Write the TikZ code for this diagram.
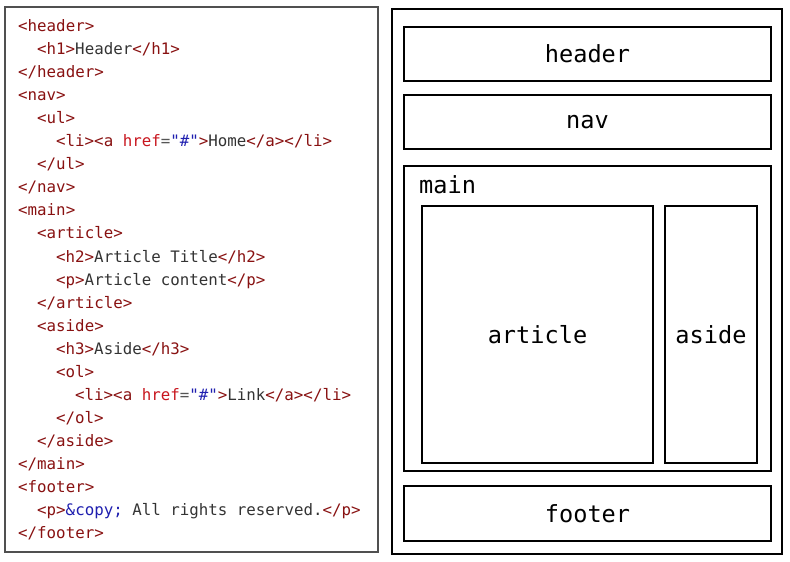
\documentclass[tikz,border=0pt]{standalone}
\usepackage{fontspec}
\setmonofont{DejaVu Sans Mono}
\definecolor{tagc}{RGB}{136,17,17}
\definecolor{attrc}{RGB}{200,22,30}
\definecolor{valc}{RGB}{30,30,175}
\definecolor{txtc}{RGB}{51,51,51}
\definecolor{eqc}{RGB}{85,85,85}
\definecolor{panelc}{RGB}{80,80,80}
\newcommand\tg[1]{\textcolor{tagc}{#1}}
\newcommand\at[1]{\textcolor{attrc}{#1}}
\newcommand\vl[1]{\textcolor{valc}{#1}}
\newcommand\tx[1]{\textcolor{txtc}{#1}}
\newcommand\hrefsnip{\tg{<a} \at{href}\textcolor{eqc}{=}\vl{"\#"}\tg{>}}
\begin{document}
\begin{tikzpicture}[x=1pt,y=-1pt,
  code/.style={anchor=base west, inner sep=0pt, font=\fontsize{15.8}{18}\selectfont\ttfamily, text=txtc},
  box/.style={draw=black, line width=2.2pt, rectangle, inner sep=0pt, font=\fontsize{23.6}{28}\selectfont\ttfamily},
  lbl/.style={inner sep=0pt, font=\fontsize{23.6}{28}\selectfont\ttfamily}]
\useasboundingbox (0,0) rectangle (790,562);
% left panel
\draw[draw=panelc, line width=1.4pt] (5,7) rectangle (378,552);
\node[code] (c0)  at (18,31.5)   {\tg{<header>}};
\node[code] (c1)  at (37,54.55)  {\tg{<h1>}Header\tg{</h1>}};
\node[code] (c2)  at (18,77.6)   {\tg{</header>}};
\node[code] (c3)  at (18,100.65) {\tg{<nav>}};
\node[code] (c4)  at (37,123.7)  {\tg{<ul>}};
\node[code] (c5)  at (56,146.75) {\tg{<li>}\hrefsnip Home\tg{</a></li>}};
\node[code] (c6)  at (37,169.8)  {\tg{</ul>}};
\node[code] (c7)  at (18,192.85) {\tg{</nav>}};
\node[code] (c8)  at (18,215.9)  {\tg{<main>}};
\node[code] (c9)  at (37,238.95) {\tg{<article>}};
\node[code] (c10) at (56,262)    {\tg{<h2>}Article Title\tg{</h2>}};
\node[code] (c11) at (56,285.05) {\tg{<p>}Article content\tg{</p>}};
\node[code] (c12) at (37,308.1)  {\tg{</article>}};
\node[code] (c13) at (37,331.15) {\tg{<aside>}};
\node[code] (c14) at (56,354.2)  {\tg{<h3>}Aside\tg{</h3>}};
\node[code] (c15) at (56,377.25) {\tg{<ol>}};
\node[code] (c16) at (75,400.3)  {\tg{<li>}\hrefsnip Link\tg{</a></li>}};
\node[code] (c17) at (56,423.35) {\tg{</ol>}};
\node[code] (c18) at (37,446.4)  {\tg{</aside>}};
\node[code] (c19) at (18,469.45) {\tg{</main>}};
\node[code] (c20) at (18,492.5)  {\tg{<footer>}};
\node[code] (c21) at (37,515.55) {\tg{<p>}\vl{\&copy;} All rights reserved.\tg{</p>}};
\node[code] (c22) at (18,538.6)  {\tg{</footer>}};
% right panel
\draw[line width=2pt] (392,9) rectangle (782,554);
\node[box, minimum width=367pt, minimum height=54pt] (header) at (587.5,54) {header};
\node[box, minimum width=367pt, minimum height=54pt] (nav) at (587.5,122) {nav};
\node[box, minimum width=367pt, minimum height=305pt] (main) at (587.5,318.5) {};
\node[lbl, anchor=base west] (mainlbl) at (419,193) {main};
\node[box, minimum width=231pt, minimum height=257pt] (article) at (537.5,334.5) {article};
\node[box, minimum width=92pt, minimum height=257pt] (aside) at (711,334.5) {aside};
\node[box, minimum width=367pt, minimum height=55pt] (footer) at (587.5,513.5) {footer};
\end{tikzpicture}
\end{document}
